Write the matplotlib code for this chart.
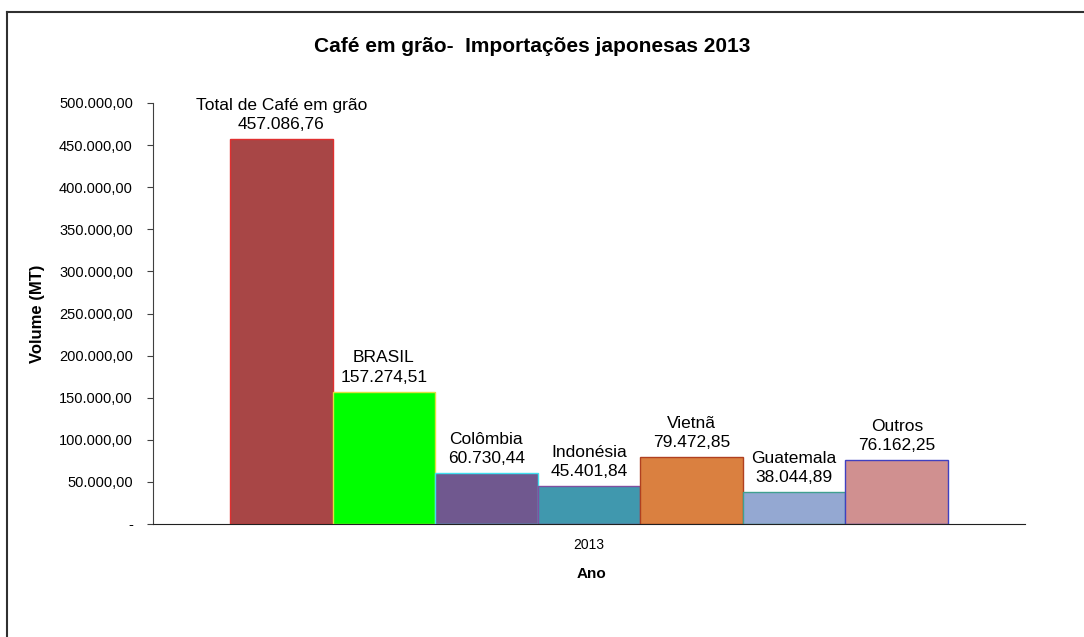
import matplotlib
matplotlib.use("Agg")
import matplotlib.pyplot as plt
from matplotlib.lines import Line2D
from matplotlib.ticker import FuncFormatter

plt.rcParams['font.family'] = ['Liberation Sans', 'DejaVu Sans']

# importações japonesas de café em grão, 2013 (MT)
origens = ["Total de Café em grão", "BRASIL", "Colômbia", "Indonésia",
           "Vietnã", "Guatemala", "Outros"]
volumes = [457086.76, 157274.51, 60730.44, 45401.84, 79472.85, 38044.89, 76162.25]
cores = ["#A84646", "#00FF00", "#70588F", "#4098AE", "#DA8040", "#94A8D2", "#D09090"]
bordas = ["#E03030", "#E0E040", "#40E0F0", "#8050A0", "#B04020", "#40A090", "#4040C0"]
ano = "2013"


def br(v, pos=None):
    # formato numérico brasileiro: 457.086,76 ; zero vira "-"
    if v == 0:
        return "-"
    s = f"{v:,.2f}"
    return s.replace(",", "X").replace(".", ",").replace("X", ".")


fig = plt.figure(figsize=(10.84, 6.37), dpi=100)
ax = fig.add_axes([153/1084, 113/637, 872/1084, 421/637])

xs = range(len(volumes))
bars = ax.bar(xs, volumes, width=1.0, color=cores, edgecolor=bordas, linewidth=1)

for b, nome, v in zip(bars, origens, volumes):
    ax.annotate(f"{nome}\n{br(v)}", (b.get_x() + b.get_width()/2, v),
                xytext=(0, 5), textcoords="offset points",
                ha="center", va="bottom", fontsize=12.5, linespacing=1.35)

ax.set_xlim(-1.25, len(volumes) + 0.25)
ax.set_ylim(0, 500000)
ax.set_yticks(range(0, 500001, 50000))
ax.yaxis.set_major_formatter(FuncFormatter(br))
ax.tick_params(axis="y", direction="out", length=4.5, labelsize=10.5, pad=10,
               color="#404040")
ax.set_xticks([(len(volumes) - 1) / 2])
ax.set_xticklabels([ano], fontsize=10)
ax.tick_params(axis="x", length=0, pad=10)

ax.spines["top"].set_visible(False)
ax.spines["right"].set_visible(False)
ax.spines["left"].set_color("#404040")
ax.spines["bottom"].set_color("#202020")

ax.set_ylabel("Volume (MT)", fontsize=12, fontweight="bold")
ax.yaxis.set_label_coords(-0.124, 0.5)
ax.set_xlabel("Ano", fontsize=11, fontweight="bold")
ax.xaxis.set_label_coords(0.503, -0.102)

fig.text(532/1084, 1 - 47/637, "Café em grão-  Importações japonesas 2013",
         ha="center", va="center", fontsize=15, fontweight="bold")

# moldura do gráfico (apenas topo e esquerda visíveis)
fig.add_artist(Line2D([7/1084, 1], [1 - 12/637, 1 - 12/637],
                      transform=fig.transFigure, color="#303030", lw=1.5))
fig.add_artist(Line2D([7/1084, 7/1084], [0, 1 - 12/637],
                      transform=fig.transFigure, color="#303030", lw=1.5))

fig.savefig("out.png", dpi=100)
